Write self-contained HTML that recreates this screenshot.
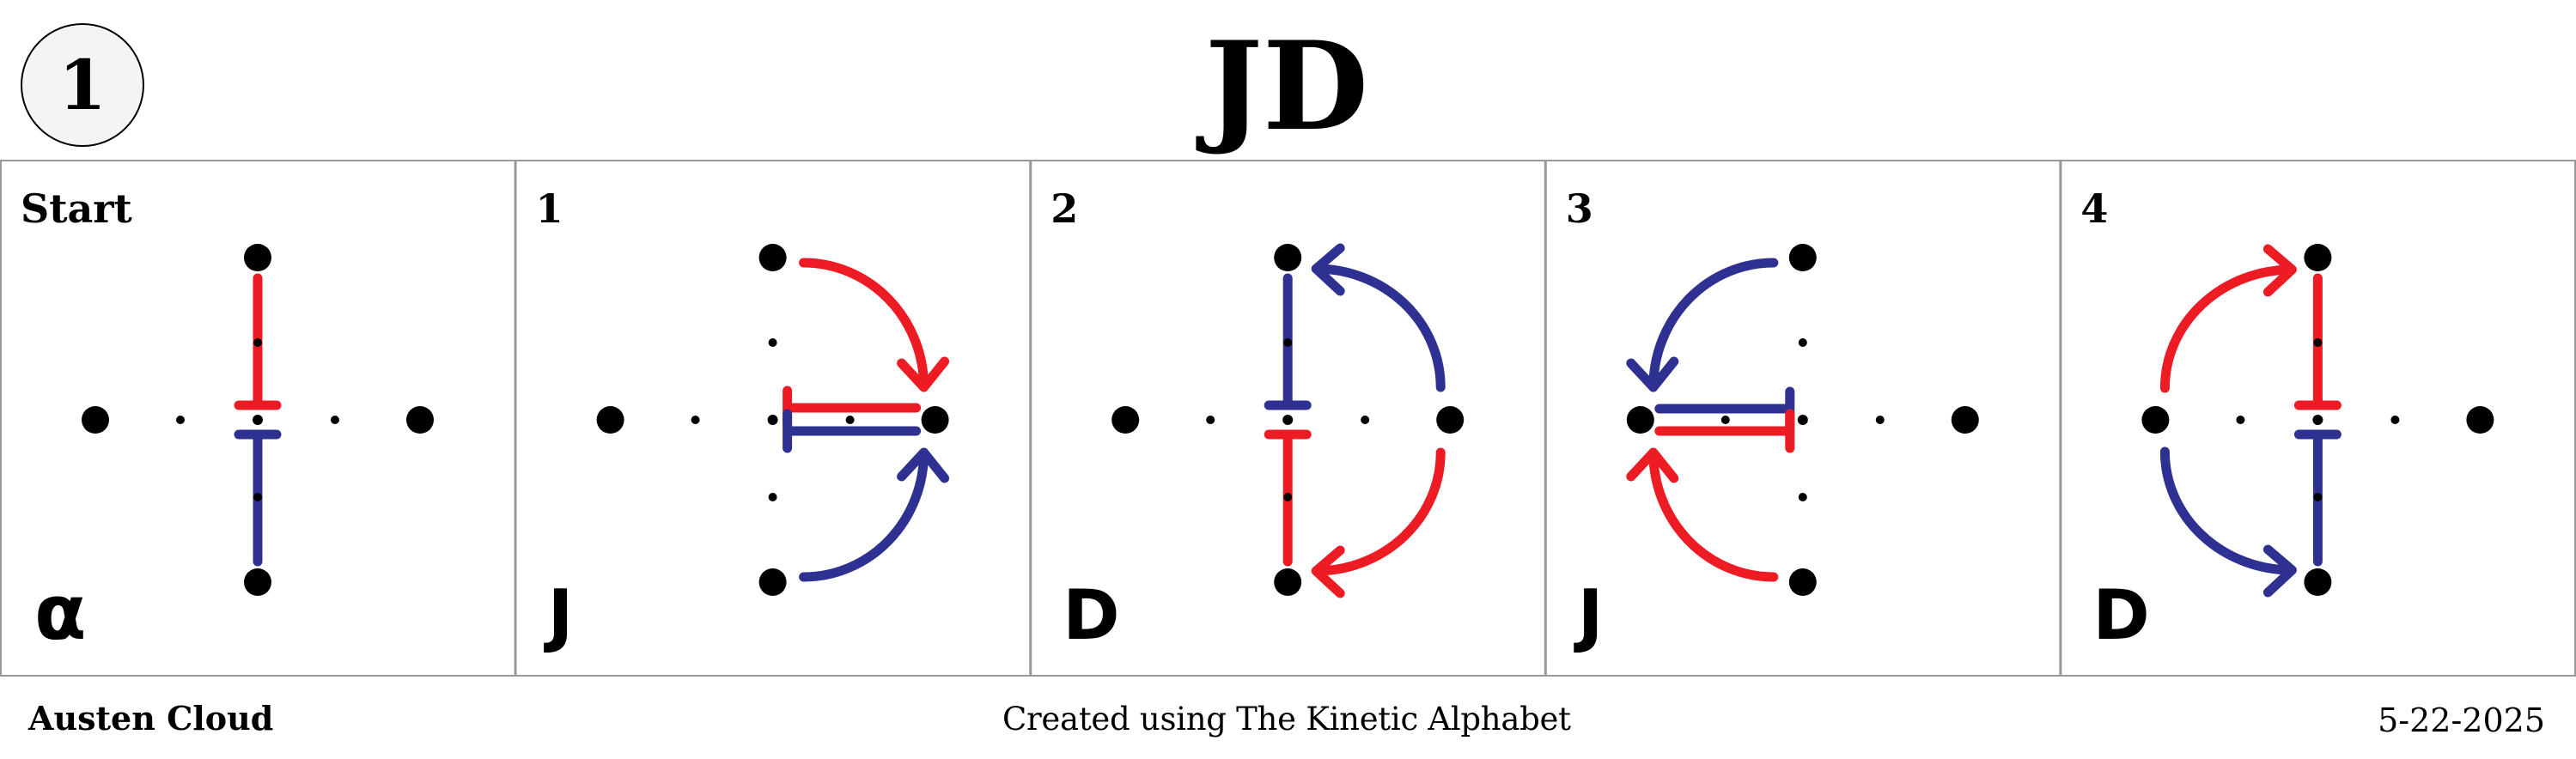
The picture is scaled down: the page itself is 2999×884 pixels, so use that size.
<!DOCTYPE html>
<html><head><meta charset="utf-8"><style>
html,body{margin:0;padding:0;background:#fff;}
body{width:2999px;height:884px;overflow:hidden;position:relative;font-family:"Liberation Serif",serif;}
svg{position:absolute;left:0;top:0;}
</style></head><body>
<svg id="s" width="2999" height="884" viewBox="0 0 2999 884" xmlns="http://www.w3.org/2000/svg">
<ellipse cx="96" cy="99" rx="71" ry="71" fill="#f4f4f4" stroke="#000" stroke-width="2"/>
<text x="96" y="127" text-anchor="middle" font-family="DejaVu Serif, serif" font-weight="bold" font-size="80">1</text>
<text x="1498" y="150" text-anchor="middle" font-family="DejaVu Serif, serif" font-weight="bold" font-size="142">JD</text>
<text x="33" y="850" font-family="DejaVu Serif, serif" font-weight="bold" font-size="38">Austen Cloud</text>
<text x="1498" y="850" text-anchor="middle" font-family="DejaVu Serif, serif" font-size="37" textLength="662">Created using The Kinetic Alphabet</text>
<text x="2963" y="852" text-anchor="end" font-family="DejaVu Serif, serif" font-size="38">5-22-2025</text>
<g id="panels"></g>
</svg>
<script>
const panelLabels = ["Start","1","2","3","4"];
const panelLetters = ["α","J","D","J","D"];
const RED="#ED1C24", BLUE="#2E3192";
// T-lines: [color, orientation, fixed, from, to]
const panelTees = [
 [[RED,"v",0,-165,-17],[BLUE,"v",0,165,17]],
 [[RED,"h",-14,167,17],[BLUE,"h",13,167,17]],
 [[BLUE,"v",0,-165,-17],[RED,"v",0,165,17]],
 [[BLUE,"h",-13,-167,-15],[RED,"h",13,-167,-15]],
 [[RED,"v",0,-165,-17],[BLUE,"v",0,165,17]]
];
// arcs: [color, sx, sy, ex, ey, sweep, arrowdir]
const panelArcs = [
 [],
 [[RED,36,-183,176,-38,1,"down"],[BLUE,36,183,176,38,0,"up"]],
 [[BLUE,178,-38,33,-176,0,"left"],[RED,178,38,33,176,1,"left"]],
 [[BLUE,-34,-183,-174,-38,0,"down"],[RED,-34,183,-174,38,1,"up"]],
 [[RED,-178,-37,-30,-175,1,"right"],[BLUE,-178,37,-30,175,0,"right"]]
];
const NS="http://www.w3.org/2000/svg";
const g=document.getElementById("panels");
const PW=599.6, TOP=187, BOT=787, CY=489;
function mk(t,a){const e=document.createElementNS(NS,t);for(const k in a)e.setAttribute(k,a[k]);return e;}
panelLabels.forEach((lab,i)=>{
 const x0=i*PW, cx=x0+300;
 const pg=mk("g",{});
 
 
 const r=mk("rect",{x:x0+1,y:TOP,width:PW-1,height:BOT-TOP,fill:"none",stroke:"#999","stroke-width":2});
 
 
 pg.appendChild(r);
 const t=mk("text",{x:x0+24,y:259,"font-family":"DejaVu Serif, serif","font-weight":"bold","font-size":46});
 t.textContent=lab;
 
 
 pg.appendChild(t);
 const l=mk("text",{x:x0+(i==0?40:38),y:744,"font-family":"DejaVu Sans, sans-serif","font-weight":"bold","font-size":i==0?88:80});
 l.textContent=panelLetters[i];
 
 
 pg.appendChild(l);
 panelTees[i].forEach(tt=>{
  const [c,o,f,a,b]=tt;
  let d;
  if(o=="v") d=`M${cx+f} ${CY+a} L${cx+f} ${CY+b} M${cx-22} ${CY+b} L${cx+22} ${CY+b}`;
  else d=`M${cx+a} ${CY+f} L${cx+b} ${CY+f} M${cx+b} ${CY+f-20} L${cx+b} ${CY+f+20}`;
  const p=mk("path",{d:d,stroke:c,"stroke-width":11,"stroke-linecap":"round",fill:"none"});
  
  
  pg.appendChild(p);
 });
 panelArcs[i].forEach(ar=>{
  const [c,sx,sy,ex,ey,sw,dir]=ar;
  const rx=Math.abs(ex-sx), ry=Math.abs(ey-sy);
  const X=cx+ex, Y=CY+ey;
  let h;
  if(dir=="down") h=`M${X-26} ${Y-28} L${X} ${Y} L${X+24} ${Y-30}`;
  if(dir=="up") h=`M${X-26} ${Y+28} L${X} ${Y} L${X+24} ${Y+30}`;
  if(dir=="left") h=`M${X+28} ${Y-24} L${X} ${Y} L${X+28} ${Y+26}`;
  if(dir=="right") h=`M${X-28} ${Y-24} L${X} ${Y} L${X-28} ${Y+26}`;
  const p=mk("path",{d:`M${cx+sx} ${CY+sy} A${rx} ${ry} 0 0 ${sw} ${X} ${Y} `+h,stroke:c,"stroke-width":11,"stroke-linecap":"round","stroke-linejoin":"round",fill:"none"});
  
  
  pg.appendChild(p);
 });
 const dots=[[0,-189,15],[0,189,15],[-189,0,15],[189,0,15],[0,0,6],[-90,0,5],[90,0,5],[0,-90,5],[0,90,5]];
 dots.forEach(d=>{
  const c=mk("ellipse",{cx:cx+d[0],cy:CY+d[1],rx:d[2]+(d[2]>10?1:0),ry:d[2]+(d[2]>10?1:0),fill:"#000"});
  
  
  pg.appendChild(c);
 });
 g.appendChild(pg);
});
</script>
</body></html>
